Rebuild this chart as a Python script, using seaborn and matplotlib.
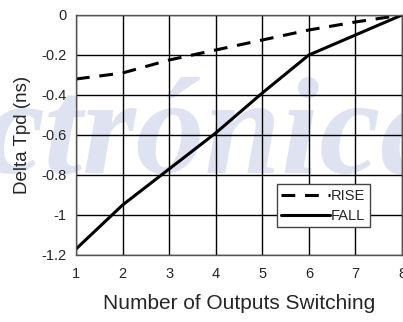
import matplotlib
matplotlib.use("Agg")
import matplotlib.pyplot as plt
import seaborn as sns
import pandas as pd

outputs = [1, 2, 3, 4, 5, 6, 7, 8]
rise = [-0.32, -0.29, -0.225, -0.175, -0.125, -0.075, -0.035, 0.0]
fall = [-1.17, -0.95, -0.77, -0.59, -0.39, -0.2, -0.1, 0.0]
y_ticks = [0, -0.2, -0.4, -0.6, -0.8, -1, -1.2]
y_tick_labels = ["0", "-0.2", "-0.4", "-0.6", "-0.8", "-1", "-1.2"]

sns.set_style("white")
plt.rcParams['font.family'] = ['Liberation Sans', 'DejaVu Sans']

fig = plt.figure(figsize=(4.03, 3.22), dpi=100)
fig.patch.set_facecolor("white")
ax = fig.add_axes([76/403, 1-255/322, 326/403, 240/322])
ax.set_facecolor("none")

# watermark
fig.text(-0.04, 0.465, "ctrónica", fontsize=99, family="Liberation Serif",
         style="italic", weight="bold", color="#dfe2f0", zorder=-5,
         ha="left", va="baseline")

df = pd.DataFrame({"x": outputs + outputs,
                   "y": rise + fall,
                   "s": ["RISE"] * len(rise) + ["FALL"] * len(fall)})

sns.lineplot(data=df[df.s == "RISE"], x="x", y="y", ax=ax, color="black",
             linewidth=2.2, label="RISE")
ax.lines[-1].set_dashes([4.5, 3.2])
sns.lineplot(data=df[df.s == "FALL"], x="x", y="y", ax=ax, color="black",
             linewidth=2.2, label="FALL")

ax.set_xlim(1, 8)
ax.set_ylim(-1.2, 0)
ax.set_xticks(outputs)
ax.set_yticks(y_ticks)
ax.set_yticklabels(y_tick_labels)
ax.grid(True, color="black", linewidth=1.0)
for sp in ax.spines.values():
    sp.set_color("#555555")
    sp.set_linewidth(1.0)
ax.tick_params(axis="both", direction="out", length=3, width=1, color="black",
               labelsize=10.5, pad=4)
ax.tick_params(axis="x", pad=6)

ax.set_xlabel("Number of Outputs Switching", fontsize=15, labelpad=9)
ax.set_ylabel("Delta Tpd (ns)", fontsize=13.5, labelpad=7)

leg = ax.legend(loc="lower left", bbox_to_anchor=(201/326, 28/240),
                frameon=True, fancybox=False, fontsize=10.5, handlelength=3.3,
                handletextpad=0.1, borderpad=0.3, labelspacing=0.4,
                borderaxespad=0)
leg.get_frame().set_edgecolor("#444444")
leg.get_frame().set_linewidth(1.0)
leg.get_frame().set_facecolor("white")
leg.get_frame().set_alpha(1)

fig.savefig("out.png", dpi=100, facecolor="white")
